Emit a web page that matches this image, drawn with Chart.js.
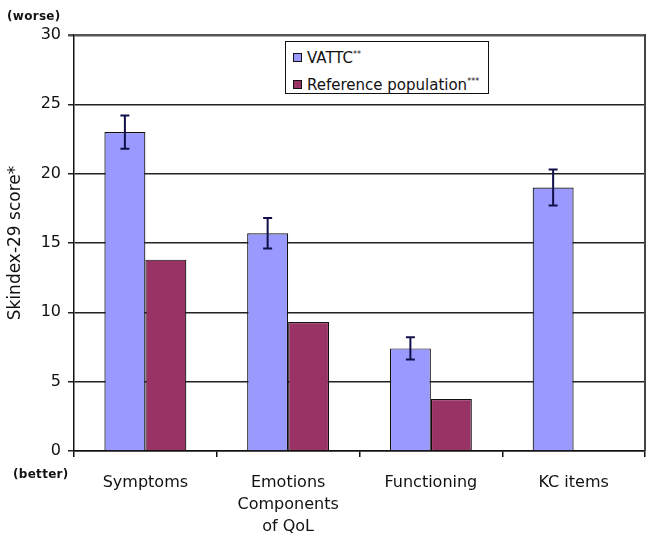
<!DOCTYPE html>
<html>
<head>
<meta charset="utf-8">
<script src="https://cdn.jsdelivr.net/npm/chart.js@4.4.1/dist/chart.umd.min.js"></script>
<style>
  html, body { margin: 0; padding: 0; background: #fff; }
  #wrap { position: relative; width: 657px; height: 538px; }
  canvas { position: absolute; left: 0; top: 0; }
  .note { position: absolute; font-family: "DejaVu Sans", sans-serif; font-size: 12px; font-weight: bold; color: #111; letter-spacing: 0.3px; }
  #legend { position: absolute; left: 285px; top: 41px; width: 202px; height: 51px; border: 1.5px solid #111; background: #fff;
            font-family: "DejaVu Sans", sans-serif; font-size: 15px; color: #111; }
  .row { position: absolute; left: 7px; height: 18px; line-height: 18px; white-space: nowrap; }
  .sw { display: inline-block; width: 7px; height: 7px; border: 1px solid #111; margin-right: 5px; vertical-align: 1px; }
  sup { font-size: 8px; vertical-align: 6px; }
</style>
</head>
<body>
<div id="wrap">
  <canvas id="c" width="657" height="538"></canvas>
  <div class="note" style="left:7px; top:9px;">(worse)</div>
  <div class="note" style="left:13px; top:467px;">(better)</div>
  <div id="legend">
    <div class="row" style="top:4px;"><span class="sw" style="background:#9999ff"></span>VATTC<sup>**</sup></div>
    <div class="row" style="top:31px;"><span class="sw" style="background:#993366"></span>Reference population<sup>***</sup></div>
  </div>
</div>
<script>
const categories = [["Symptoms"], ["Emotions", "Components", "of QoL"], ["Functioning"], ["KC items"]];
const seriesNames = ["VATTC**", "Reference population***"];
const vattcValues = [23.0, 15.7, 7.4, 19.0];
const vattcErrors = [1.2, 1.1, 0.8, 1.3];
const referenceValues = [13.8, 9.3, 3.75, null];
const yTicks = [0, 5, 10, 15, 20, 25, 30];

const errorBarPlugin = {
  id: 'errorBars',
  afterDatasetsDraw(chart) {
    const meta = chart.getDatasetMeta(0);
    const y = chart.scales.y;
    const ctx = chart.ctx;
    ctx.save();
    ctx.strokeStyle = '#10104a';
    ctx.lineWidth = 2;
    meta.data.forEach((el, i) => {
      const v = vattcValues[i], e = vattcErrors[i];
      if (v == null || e == null) return;
      const yt = y.getPixelForValue(v + e);
      const yb = y.getPixelForValue(v - e);
      const x = el.x;
      ctx.beginPath();
      ctx.moveTo(x, yt); ctx.lineTo(x, yb);
      ctx.moveTo(x - 4.5, yt); ctx.lineTo(x + 4.5, yt);
      ctx.moveTo(x - 4.5, yb); ctx.lineTo(x + 4.5, yb);
      ctx.stroke();
    });
    ctx.restore();
  },
  afterDraw(chart) {
    const a = chart.chartArea;
    const ctx = chart.ctx;
    ctx.save();
    ctx.strokeStyle = '#444';
    ctx.lineWidth = 2;
    ctx.beginPath();
    ctx.moveTo(a.right, a.top - 1);
    ctx.lineTo(a.right, a.bottom);
    ctx.stroke();
    ctx.restore();
  }
};

new Chart(document.getElementById('c'), {
  type: 'bar',
  data: {
    labels: categories,
    datasets: [
      { label: seriesNames[0], data: vattcValues, backgroundColor: '#9999ff', borderColor: '#111', borderWidth: 1.2,
        categoryPercentage: 0.574, barPercentage: 1.0 },
      { label: seriesNames[1], data: referenceValues, backgroundColor: '#993366', borderColor: '#111', borderWidth: 1.2,
        categoryPercentage: 0.574, barPercentage: 1.0 }
    ]
  },
  options: {
    responsive: false,
    animation: false,
    devicePixelRatio: 1,
    layout: { padding: { top: 35, right: 12, left: 0, bottom: 0 } },
    plugins: { legend: { display: false }, tooltip: { enabled: false } },
    scales: {
      x: {
        grid: { offset: true, drawOnChartArea: false, drawTicks: true, tickLength: 6, color: '#111', lineWidth: 1.5 },
        border: { display: true, color: '#111', width: 1.5 },
        ticks: { color: '#111', font: { family: 'DejaVu Sans', size: 16, lineHeight: 1.37 }, padding: 15, maxRotation: 0, autoSkip: false },
        afterFit(scale) { scale.height = 87; }
      },
      y: {
        min: 0, max: 30,
        afterBuildTicks(scale) { scale.ticks = yTicks.map(v => ({ value: v })); },
        grid: {
          color: ctx => ctx.tick && ctx.tick.value === 30 ? '#555' : '#222',
          lineWidth: ctx => ctx.tick && ctx.tick.value === 30 ? 2.5 : 1.5,
          tickLength: 6
        },
        border: { display: true, color: '#111', width: 1.5 },
        ticks: { color: '#111', font: { family: 'DejaVu Sans', size: 16 }, padding: 7 },
        title: { display: true, text: 'Skindex-29 score*', color: '#111', font: { family: 'DejaVu Sans', size: 17 }, padding: { top: 5, bottom: 2 } },
        afterFit(scale) { scale.width = 74; }
      }
    }
  },
  plugins: [errorBarPlugin]
});
</script>
</body>
</html>
